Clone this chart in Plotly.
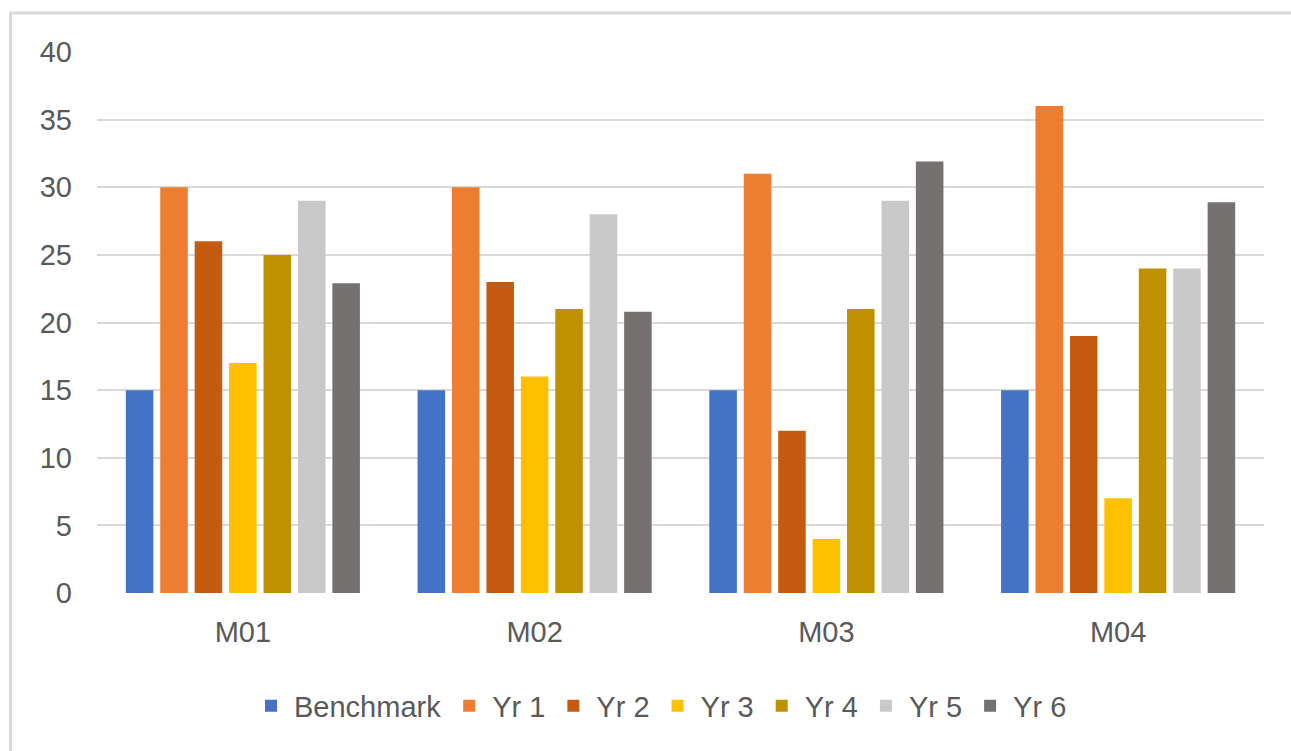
import plotly.graph_objects as go

categories = ["M01", "M02", "M03", "M04"]
series_names = ["Benchmark", "Yr 1", "Yr 2", "Yr 3", "Yr 4", "Yr 5", "Yr 6"]
benchmark = [15, 15, 15, 15]
yr1 = [30, 30, 31, 36]
yr2 = [26, 23, 12, 19]
yr3 = [17, 16, 4, 7]
yr4 = [25, 21, 21, 24]
yr5 = [29, 28, 29, 24]
yr6 = [22.9, 20.8, 31.9, 28.9]
y_ticks = [0, 5, 10, 15, 20, 25, 30, 35, 40]

colors = ["#4472C4", "#ED7D31", "#C55A11", "#FFC000", "#BF9000", "#C9C9C9", "#767171"]
all_values = [benchmark, yr1, yr2, yr3, yr4, yr5, yr6]

W, H = 1291, 751
ml, mr, mt, mb = 97, 27, 52, 158
pw, ph = W - ml - mr, H - mt - mb

def px_x(p):
    return (p - ml) / pw

def px_y(p):
    return (H - mb - p) / ph

fig = go.Figure()
for name, vals, c in zip(series_names, all_values, colors):
    fig.add_trace(go.Bar(x=categories, y=vals, name=name, marker=dict(color=c, line=dict(width=0))))

font_family = "Liberation Sans, Arial, sans-serif"
text_color = "#595959"

fig.update_layout(
    width=W, height=H,
    margin=dict(l=ml, r=mr, t=mt, b=mb, autoexpand=False),
    paper_bgcolor="white", plot_bgcolor="white",
    barmode="group", bargap=0.174, bargroupgap=0.2,
    font=dict(family=font_family, color=text_color, size=29),
    showlegend=True,
    legend=dict(orientation="h", x=px_x(660), xanchor="center", y=px_y(706), yanchor="middle",
                itemwidth=36,
                font=dict(size=29, color=text_color), traceorder="normal", bgcolor="rgba(0,0,0,0)"),
    xaxis=dict(showgrid=False, zeroline=False, showline=False, ticks="",
               tickfont=dict(size=29, color=text_color), ticklabelstandoff=19),
    yaxis=dict(range=[0, 40], tickvals=y_ticks, showgrid=True, gridcolor="#D9D9D9", gridwidth=2,
               zeroline=False, showline=False, ticks="",
               tickfont=dict(size=29, color=text_color), ticklabelstandoff=24),
    shapes=[dict(type="rect", xref="paper", yref="paper",
                 x0=px_x(10.5), x1=px_x(1320), y0=px_y(790), y1=px_y(13),
                 line=dict(color="#D9D9D9", width=3), fillcolor="rgba(0,0,0,0)", layer="below")],
)

fig.write_html("out.html")
